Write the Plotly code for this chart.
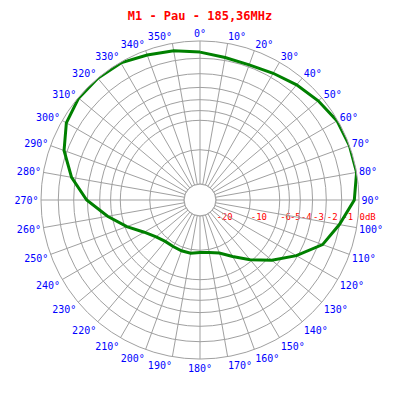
import numpy as np
import plotly.graph_objects as go

GRID = "#a0a0a0"

# measured pattern, one point every 10 degrees (clockwise from north), in dB
angles = list(range(0, 360, 10))
gain_db = [
    -0.63, -0.82, -0.87, -0.72, -0.49, -0.26, -0.04, 0.0, 0.0, -0.26,
    -1.01, -1.72, -3.10, -4.58, -6.20, -7.74, -9.00, -9.50, -9.63, -9.37,
    -9.37, -9.42, -9.37, -8.87, -7.85, -6.20, -4.58, -2.94, -1.72, -0.82,
    -0.26, -0.03, 0.0, -0.04, -0.26, -0.42,
]

# radial grid circles (dB) and their labels
grid_db = [-20, -10, -6, -5, -4, -3, -2, -1, 0]
grid_labels = ["-20", "-10", "-6", "-5", "-4", "-3", "-2", "-1", "0dB"]

title_text = "M1 - Pau - 185,36MHz"


def db_to_r(db):
    # field-strength (linear voltage) scale
    return 10 ** (np.asarray(db, dtype=float) / 20.0)


theta = angles + angles[:1]
r = db_to_r(gain_db + gain_db[:1])
grid_r = list(db_to_r(grid_db))

fig = go.Figure()

# inner circle at -20 dB (edge of the hole)
fig.add_trace(
    go.Scatterpolar(
        r=[grid_r[0]] * 361,
        theta=list(range(0, 361)),
        mode="lines",
        line=dict(color=GRID, width=1),
        hoverinfo="skip",
        showlegend=False,
    )
)

fig.add_trace(
    go.Scatterpolar(
        r=r,
        theta=theta,
        mode="lines",
        line=dict(color="#008000", width=3),
        showlegend=False,
    )
)

# helper cartesian axis laid along the 90 deg spoke, carrying the dB labels
# (same linear radius scale as the polar plot: centre -> edge = 0 -> 1)
fig.add_trace(
    go.Scatter(x=[None], y=[None], xaxis="x", yaxis="y", showlegend=False, hoverinfo="skip")
)

fig.update_layout(
    width=400,
    height=400,
    margin=dict(l=41, r=41, t=41, b=41),
    paper_bgcolor="white",
    plot_bgcolor="rgba(0,0,0,0)",
    title=dict(
        text=title_text,
        x=0.5,
        xanchor="center",
        y=0.96,
        yanchor="middle",
        font=dict(family="DejaVu Sans Mono", size=12, color="#ff0000", weight="bold"),
    ),
    xaxis=dict(
        domain=[0.5, 1.0],
        range=[0, 1],
        anchor="free",
        position=0.475,  # invisible axis sits a little below the 90 deg spoke
        tickvals=grid_r,
        ticktext=grid_labels,
        tickangle=0,
        ticklabelposition="outside right",
        ticks="outside",
        ticklen=6,
        tickcolor="rgba(0,0,0,0)",
        showline=False,
        showgrid=False,
        zeroline=False,
        fixedrange=True,
        tickfont=dict(family="DejaVu Sans Mono", size=9, color="#ff0000"),
    ),
    yaxis=dict(visible=False, range=[-1, 1], fixedrange=True),
    polar=dict(
        bgcolor="rgba(0,0,0,0)",
        hole=0.1,
        radialaxis=dict(
            range=[0.1, 1.0],
            tickvals=grid_r,
            showticklabels=False,
            ticks="",
            showline=False,
            gridcolor=GRID,
            gridwidth=1,
        ),
        angularaxis=dict(
            rotation=90,
            direction="clockwise",
            dtick=10,
            ticksuffix="°",
            ticks="",
            showline=True,
            linecolor=GRID,
            linewidth=1,
            gridcolor=GRID,
            gridwidth=1,
            tickfont=dict(family="DejaVu Sans Mono", size=10, color="#0000ff"),
        ),
    ),
)

# page body margin off so the figure sits at the window origin
fig.write_html(
    "out.html",
    config={"displayModeBar": False},
    post_script="document.body.style.margin='0';",
)
